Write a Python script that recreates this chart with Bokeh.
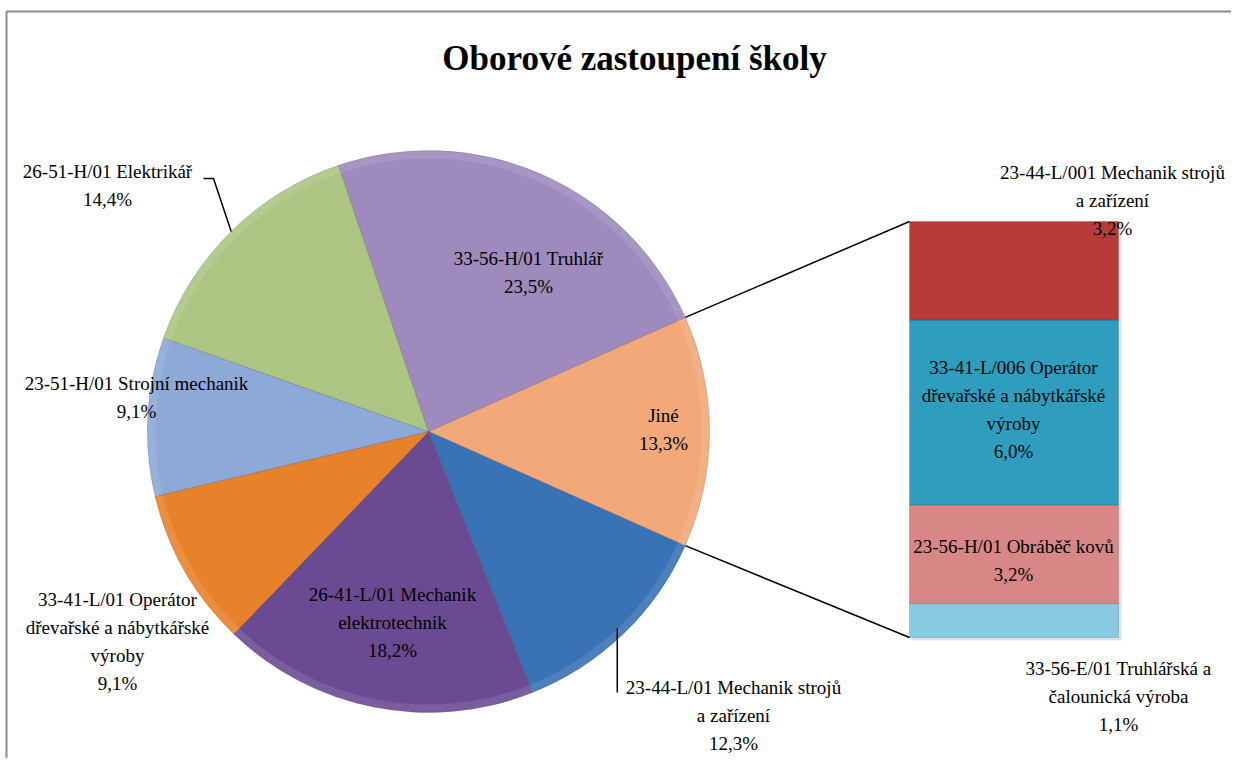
import numpy as np
from bokeh.plotting import figure
from bokeh.models import Range1d
from bokeh.embed import file_html
from bokeh.resources import INLINE
from bokeh.core.properties import value

# ---------------- data ----------------
TITLE = "Oborové zastoupení školy"

pie_labels = [
    "Jiné",
    "23-44-L/01 Mechanik strojů\na zařízení",
    "26-41-L/01 Mechanik\nelektrotechnik",
    "33-41-L/01 Operátor\ndřevařské a nábytkářské\nvýroby",
    "23-51-H/01 Strojní mechanik",
    "26-51-H/01 Elektrikář",
    "33-56-H/01 Truhlář",
]
pie_values = [13.3, 12.3, 18.2, 9.1, 9.1, 14.4, 23.5]

bar_labels = [
    "33-56-E/01 Truhlářská a\nčalounická výroba",
    "23-56-H/01 Obráběč kovů",
    "33-41-L/006 Operátor\ndřevařské a nábytkářské\nvýroby",
    "23-44-L/001 Mechanik strojů\na zařízení",
]
bar_values = [1.1, 3.2, 6.0, 3.2]

# ---------------- styles / layout ----------------
pie_colors = ["#F2A878", "#3A72B6", "#6A4B93", "#E8822A", "#8CA9D8", "#ADC583", "#9E8ABD"]
bar_colors = ["#86CBE2", "#D88686", "#2F9DBE", "#B63B39"]

W, H = 1231, 758


def px(x):
    return x


def py(y):
    return H - y


CX, CY, R = px(428), py(431), 281.0
BAR_X0, BAR_X1 = px(909), px(1118)
BAR_Y0, BAR_Y1 = py(637), py(221)

# label block centres (picture px)
pie_label_pos = [(663, 429), (733, 715), (392, 622), (117, 641), (136, 397), (107, 185), (528, 272)]
bar_label_pos = [(1118, 696), (1013, 560), (1013, 409), (1112, 200)]

FONT = "Liberation Serif"
FS = "19px"
LH = 1.32


def pct(v):
    return f"{v:.1f}".replace(".", ",") + "%"


p = figure(width=W, height=H, x_range=Range1d(0, W), y_range=Range1d(0, H),
           output_backend="svg", toolbar_location=None, min_border=0)
p.axis.visible = False
p.xgrid.visible = False
p.ygrid.visible = False
p.outline_line_color = None
p.background_fill_color = "white"
p.border_fill_color = "white"

# chart frame (top and left edges visible)
p.line([px(6), px(6), W], [0, py(11), py(11)], line_color="#8C8C8C", line_width=2)

# ---------------- pie ----------------
total = sum(pie_values)
angs = [v / total * 2 * np.pi for v in pie_values]
starts, ends = [], []
cur = angs[0] / 2
for a in angs:
    starts.append(cur - a)
    ends.append(cur)
    cur -= a
mids = [(s + e) / 2 for s, e in zip(starts, ends)]

n = len(pie_values)
p.wedge(x=[CX] * n, y=[CY] * n, radius=R,
        start_angle=starts, end_angle=ends, fill_color=pie_colors,
        line_color="#000000", line_alpha=0.15, line_width=1)
# soft rim (bevel look)
p.annular_wedge(x=[CX] * n, y=[CY] * n, inner_radius=R - 8, outer_radius=R,
                start_angle=starts, end_angle=ends, fill_color="white",
                fill_alpha=0.10, line_color=None)

# ---------------- bar of "Jiné" ----------------
scale = (BAR_Y1 - BAR_Y0) / sum(bar_values)
bottoms = BAR_Y0 + scale * np.concatenate([[0], np.cumsum(bar_values)[:-1]])
tops = BAR_Y0 + scale * np.cumsum(bar_values)
# soft shadow
p.quad(left=BAR_X0 + 2, right=BAR_X1 + 3, bottom=BAR_Y0 - 3, top=BAR_Y1 - 1,
       fill_color="#000000", fill_alpha=0.12, line_color=None)
p.quad(left=BAR_X0, right=BAR_X1, bottom=bottoms, top=tops, fill_color=bar_colors,
       line_color="#000000", line_alpha=0.15, line_width=1)

# connector lines from Jiné slice edges to the bar
p.line([CX + R * np.cos(ends[0]), BAR_X0], [CY + R * np.sin(ends[0]), BAR_Y1],
       line_color="black", line_width=1.5)
p.line([CX + R * np.cos(starts[0]), BAR_X0], [CY + R * np.sin(starts[0]), BAR_Y0],
       line_color="black", line_width=1.5)

# leader lines
gi = 5  # Elektrikář
gx, gy = CX + R * np.cos(mids[gi]), CY + R * np.sin(mids[gi])
p.line([px(203), px(213), gx], [py(178), py(178), gy], line_color="black", line_width=1.5)
bi = 1  # Mechanik strojů
bx, by = CX + R * np.cos(mids[bi]) - 6, CY + R * np.sin(mids[bi]) + 6
p.line([bx, bx], [by, py(692)], line_color="black", line_width=1.5)

# ---------------- labels ----------------
lx = [px(a) for a, b in pie_label_pos] + [px(a) for a, b in bar_label_pos]
ly = [py(b) for a, b in pie_label_pos] + [py(b) for a, b in bar_label_pos]
lt = [f"{nm}\n{pct(v)}" for nm, v in zip(pie_labels, pie_values)] + \
     [f"{nm}\n{pct(v)}" for nm, v in zip(bar_labels, bar_values)]
p.text(x=lx, y=ly, text=lt, text_align="center", text_baseline="middle",
       text_font=value(FONT), text_font_size=FS, text_line_height=LH,
       text_color="black")

# title
p.text(x=[px(634)], y=[py(58)], text=[TITLE], text_align="center",
       text_baseline="middle", text_font=value(FONT), text_font_size="35px",
       text_font_style="bold", text_color="black")

open("out.html", "w").write(file_html(p, INLINE))
